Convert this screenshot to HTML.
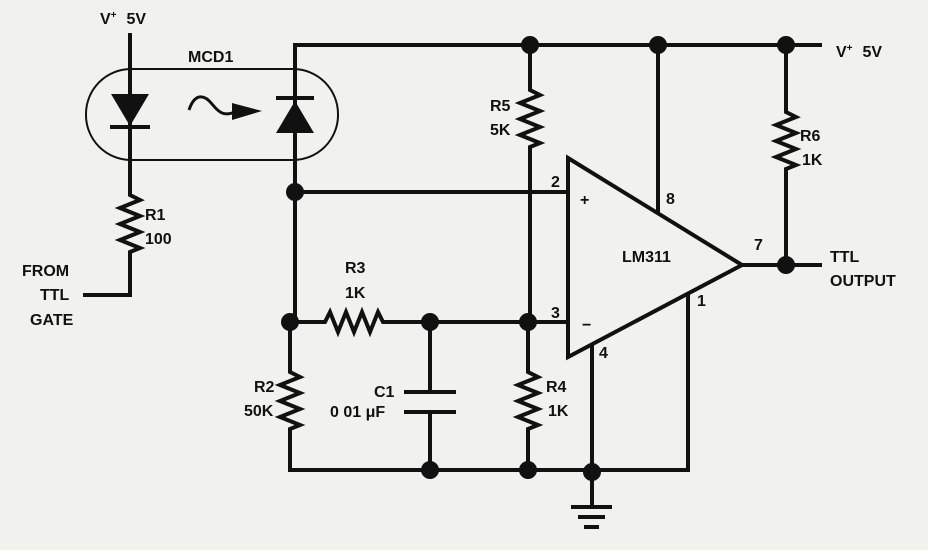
<!DOCTYPE html>
<html><head><style>
html,body{margin:0;padding:0;background:#f1f1ee;}
svg{display:block}
text{font-family:"Liberation Sans",sans-serif;font-weight:bold;font-size:16px;fill:#111;}
</style></head><body>
<svg width="928" height="550" viewBox="0 0 928 550" xmlns="http://www.w3.org/2000/svg">
<rect width="928" height="550" fill="#f1f1ee"/>
<g stroke="#111" stroke-width="4" fill="none" stroke-linecap="square">
<path d="M130 35 V195 l10 5 -20 8 20 8 -20 8 20 8 -20 8 20 8 -10 4 V295 H85"/>
<path d="M295 45 V322"/>
<path d="M295 45 H820"/>
<path d="M295 192 H568"/>
<path d="M530 45 V90 l10 5 -20 8 20 8 -20 8 20 8 -20 8 20 8 -10 4 V322"/>
<path d="M658 45 V210"/>
<path d="M786 45 V112 l10 5 -20 8 20 8 -20 8 20 8 -20 8 20 8 -10 4 V265"/>
<path d="M742 265 H820"/>
<path d="M290 322 H325 l5 -10 8 20 8 -20 8 20 8 -20 8 20 8 -20 5 10 H568"/>
<path d="M290 322 V372 l10 5 -20 8 20 8 -20 8 20 8 -20 8 20 8 -10 4 V470 H688 V296"/>
<path d="M430 322 V392 M430 412 V470"/>
<path d="M406 392 H454 M406 412 H454"/>
<path d="M528 322 V372 l10 5 -20 8 20 8 -20 8 20 8 -20 8 20 8 -10 4 V470"/>
<path d="M592 346 V505"/>
<path d="M573 507 H610 M580 517 H603 M586 527 H597"/>
<path d="M568 158 L742 265 L568 357 Z"/>
</g>
<rect x="86" y="69" width="252" height="91" rx="45" ry="45" fill="none" stroke="#111" stroke-width="2"/>
<polygon points="111,94 149,94 130,126" fill="#111"/>
<path d="M110 127 H150" stroke="#111" stroke-width="4"/>
<polygon points="276,133 314,133 295,101" fill="#111"/>
<path d="M276 98 H314" stroke="#111" stroke-width="4"/>
<path d="M189 110 C195 92 205 95 212 104 C220 114 225 116 235 112" stroke="#111" stroke-width="3" fill="none"/>
<polygon points="232,103 262,111 232,120" fill="#111"/>
<g fill="#111">
<circle cx="530" cy="45" r="9"/><circle cx="658" cy="45" r="9"/><circle cx="786" cy="45" r="9"/>
<circle cx="295" cy="192" r="9"/><circle cx="290" cy="322" r="9"/><circle cx="430" cy="322" r="9"/>
<circle cx="528" cy="322" r="9"/><circle cx="786" cy="265" r="9"/>
<circle cx="430" cy="470" r="9"/><circle cx="528" cy="470" r="9"/><circle cx="592" cy="472" r="9"/>
</g>
<text x="100" y="24">V<tspan font-size="10" dy="-6">+</tspan><tspan dy="6" dx="10">5V</tspan></text>
<text x="188" y="62">MCD1</text>
<text x="145" y="220">R1</text><text x="145" y="244">100</text>
<text x="22" y="276">FROM</text><text x="40" y="300">TTL</text><text x="30" y="325">GATE</text>
<text x="345" y="273">R3</text><text x="345" y="298">1K</text>
<text x="254" y="392">R2</text><text x="244" y="416">50K</text>
<text x="374" y="397">C1</text><text x="330" y="417">0 01 μF</text>
<text x="546" y="392">R4</text><text x="548" y="416">1K</text>
<text x="490" y="111">R5</text><text x="490" y="135">5K</text>
<text x="800" y="141">R6</text><text x="802" y="165">1K</text>
<text x="622" y="262">LM311</text>
<text x="551" y="187">2</text><text x="551" y="318">3</text>
<text x="666" y="204">8</text><text x="754" y="250">7</text>
<text x="697" y="306">1</text><text x="599" y="358">4</text>
<text x="580" y="205" font-size="18">+</text><text x="582" y="330" font-size="18">−</text>
<text x="830" y="262">TTL</text><text x="830" y="286">OUTPUT</text>
<text x="836" y="57">V<tspan font-size="10" dy="-6">+</tspan><tspan dy="6" dx="10">5V</tspan></text>
</svg>
</body></html>
